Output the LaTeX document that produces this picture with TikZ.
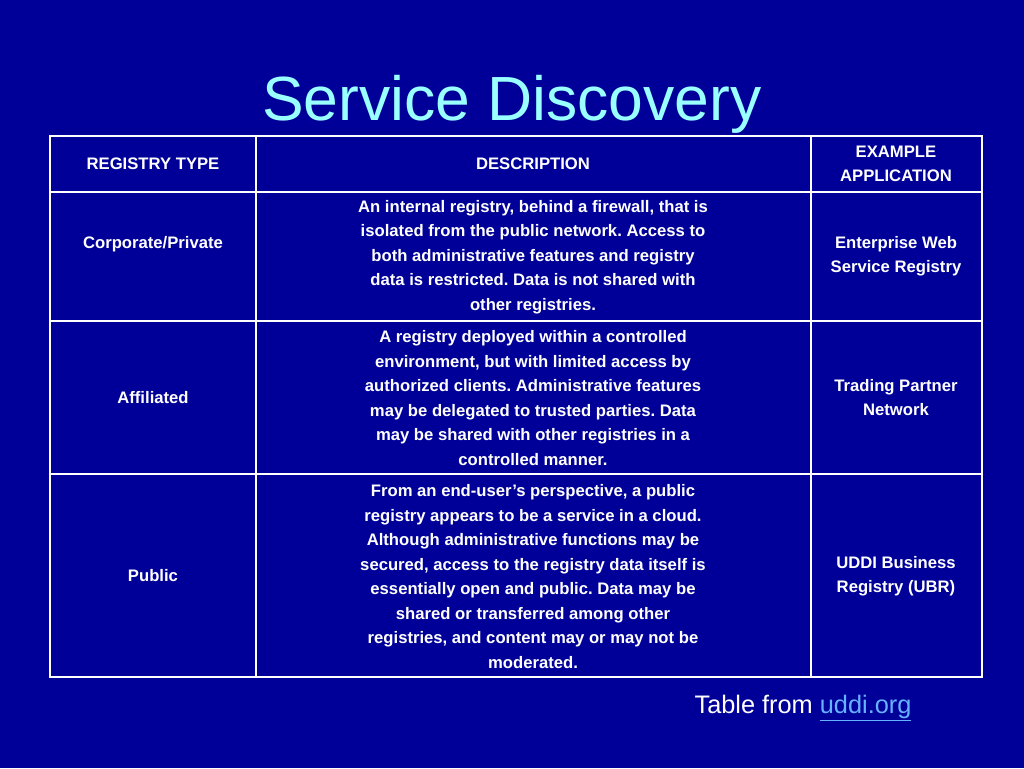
\documentclass[tikz,border=0pt]{standalone}
\usepackage{fontspec}
\setmainfont{Liberation Sans}
\frenchspacing
\definecolor{slidebg}{HTML}{000099}
\definecolor{titlecyan}{HTML}{99FFFF}
\definecolor{linkblue}{HTML}{66B2FF}

\begin{document}
\begin{tikzpicture}[x=0.75pt,y=-0.75pt,
    cell/.style={text=white,font=\bfseries\fontsize{12.5}{18.4}\selectfont,align=center,inner sep=0pt},
    rule/.style={white,line width=0.9pt}]
    \fill[slidebg] (0,0) rectangle (1024,768);
    \node[text=titlecyan,font=\fontsize{46.8}{56}\selectfont,anchor=base] (title) at (512,120) {Service Discovery};
    % table frame and rules
    \draw[white,line width=1.6pt] (50,136) rectangle (982,677);
    \foreach \y in {192,321,474} {\draw[rule] (50,\y) -- (982,\y);}
    \foreach \x in {256,811} {\draw[rule] (\x,136) -- (\x,677);}
    % header row
    \node[cell] (h1) at (153,164) {REGISTRY TYPE};
    \node[cell] (h2) at (533,164) {DESCRIPTION};
    \node[cell] (h3) at (896,164) {EXAMPLE\\APPLICATION};
    % rows: type, description, example
    \node[cell] (t1) at (153,244) {Corporate/Private};
    \node[cell] (d1) at (533,257) {An internal registry, behind a firewall, that is\\isolated from the public network. Access to\\both administrative features and registry\\data is restricted. Data is not shared with\\other registries.};
    \node[cell] (e1) at (896,256) {Enterprise Web\\Service Registry};
    \node[cell] (t2) at (153,398) {Affiliated};
    \node[cell] (d2) at (533,398) {A registry deployed within a controlled\\environment, but with limited access by\\authorized clients. Administrative features\\may be delegated to trusted parties. Data\\may be shared with other registries in a\\controlled manner.};
    \node[cell] (e2) at (896,397.5) {Trading Partner\\Network};
    \node[cell] (t3) at (153,576) {Public};
    \node[cell] (d3) at (533,576.5) {From an end-user’s perspective, a public\\registry appears to be a service in a cloud.\\Although administrative functions may be\\secured, access to the registry data itself is\\essentially open and public. Data may be\\shared or transferred among other\\registries, and content may or may not be\\moderated.};
    \node[cell] (e3) at (896,576) {UDDI Business\\Registry (UBR)};
    % source note
    \node[text=white,font=\fontsize{19}{22}\selectfont,anchor=base] (src) at (803,713) {Table from \textcolor{linkblue}{\underline{uddi.org}}};
\end{tikzpicture}
\end{document}
